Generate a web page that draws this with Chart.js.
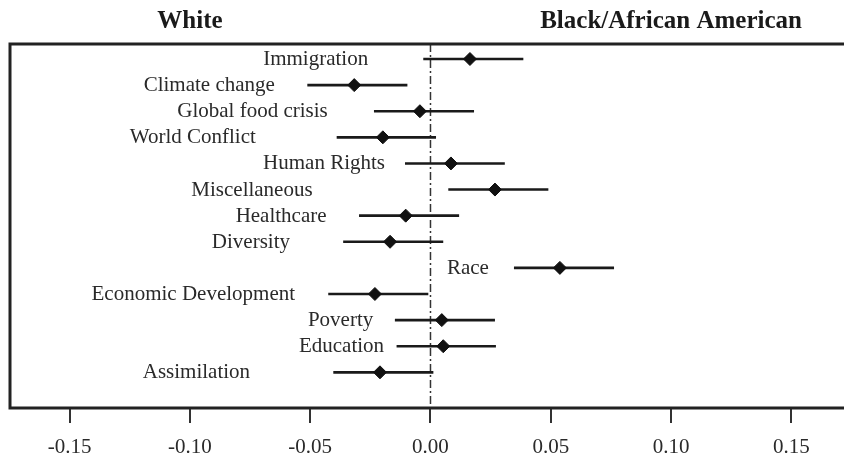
<!DOCTYPE html>
<html>
<head>
<meta charset="utf-8">
<script src="https://cdn.jsdelivr.net/npm/chart.js@4/dist/chart.umd.min.js"></script>
<style>
  html, body { margin: 0; padding: 0; background: #ffffff; }
  #wrap { width: 844px; height: 462px; position: relative; }
</style>
</head>
<body>
<div id="wrap"><canvas id="chart" width="844" height="462"></canvas></div>
<script>
// Topics, top to bottom
const topics = [
  'Immigration', 'Climate change', 'Global food crisis', 'World Conflict',
  'Human Rights', 'Miscellaneous', 'Healthcare', 'Diversity', 'Race',
  'Economic Development', 'Poverty', 'Education', 'Assimilation'
];
// Point estimates (difference, White vs Black/African American)
const estimates = [0.0164, -0.0317, -0.0044, -0.0198, 0.0085, 0.0268, -0.0103, -0.0168, 0.0538, -0.0231, 0.0047, 0.0053, -0.0210];
// Confidence interval bounds
const lower = [-0.0030, -0.0512, -0.0235, -0.0390, -0.0106, 0.0074, -0.0297, -0.0363, 0.0347, -0.0425, -0.0148, -0.0141, -0.0404];
const upper = [0.0386, -0.0096, 0.0181, 0.0023, 0.0309, 0.0490, 0.0119, 0.0053, 0.0763, -0.0009, 0.0268, 0.0272, 0.0012];
// Where each topic label ends, in axis units
const labelEnds = [-0.0259, -0.0647, -0.0427, -0.0726, -0.0189, -0.0490, -0.0432, -0.0584, 0.0243, -0.0563, -0.0238, -0.0193, -0.0750];
// X axis ticks
const tickValues = [-0.15, -0.10, -0.05, 0.00, 0.05, 0.10, 0.15];
const tickLabels = ['-0.15', '-0.10', '-0.05', '0.00', '0.05', '0.10', '0.15'];
// Panel headings and the axis values they sit over
const panelTitles = ['White', 'Black/African American'];
const panelAnchors = [-0.10, 0.10];

const X_MIN = -0.1748, X_MAX = 0.1719;
const Y_MIN = -0.5745, Y_MAX = 13.366;
const SERIF = '"Liberation Serif", "Times New Roman", serif';
const INK = '#1a1a1a';

// interval segments, separated by gaps
const ciData = [];
topics.forEach((t, i) => {
  ciData.push({ x: lower[i], y: i });
  ciData.push({ x: upper[i], y: i });
  ciData.push({ x: upper[i], y: null });
});
const pointData = topics.map((t, i) => ({ x: estimates[i], y: i }));

const decorations = {
  id: 'decorations',
  afterDatasetsDraw(chart) {
    const { ctx, chartArea: a, scales: { x, y } } = chart;
    ctx.save();
    // frame: left, top and bottom rules
    ctx.strokeStyle = '#222';
    ctx.lineWidth = 3;
    ctx.beginPath();
    ctx.moveTo(a.right + 2, a.top);
    ctx.lineTo(a.left, a.top);
    ctx.lineTo(a.left, a.bottom);
    ctx.lineTo(a.right + 2, a.bottom);
    ctx.stroke();
    // topic labels
    ctx.fillStyle = '#2a2a2a';
    ctx.font = '21px ' + SERIF;
    ctx.textAlign = 'right';
    ctx.textBaseline = 'alphabetic';
    topics.forEach((t, i) => {
      ctx.fillText(t, x.getPixelForValue(labelEnds[i]), y.getPixelForValue(i) + 6);
    });
    ctx.restore();
  },
  afterDraw(chart) {
    const { ctx, scales: { x } } = chart;
    ctx.save();
    ctx.fillStyle = '#1a1a1a';
    ctx.font = 'bold 25px ' + SERIF;
    ctx.textAlign = 'center';
    ctx.textBaseline = 'alphabetic';
    panelTitles.forEach((t, i) => {
      ctx.fillText(t, x.getPixelForValue(panelAnchors[i]), 28);
    });
    ctx.restore();
  }
};

new Chart(document.getElementById('chart'), {
  type: 'scatter',
  data: {
    datasets: [
      {
        // reference line at zero
        type: 'line',
        data: [{ x: 0, y: Y_MIN }, { x: 0, y: Y_MAX }],
        borderColor: '#333',
        borderWidth: 1.5,
        borderDash: [8, 3, 2, 3],
        pointRadius: 0,
        order: 3
      },
      {
        type: 'line',
        data: ciData,
        borderColor: INK,
        borderWidth: 2.6,
        pointRadius: 0,
        spanGaps: false,
        order: 2
      },
      {
        data: pointData,
        pointStyle: 'rectRot',
        pointRadius: 6.5,
        backgroundColor: '#111',
        borderColor: '#111',
        borderWidth: 1,
        order: 1
      }
    ]
  },
  options: {
    responsive: false,
    animation: false,
    layout: { autoPadding: false, padding: { top: 44, left: 10, right: 0, bottom: 0 } },
    plugins: { legend: { display: false }, tooltip: { enabled: false }, title: { display: false } },
    scales: {
      x: {
        type: 'linear',
        min: X_MIN,
        max: X_MAX,
        afterBuildTicks(scale) { scale.ticks = tickValues.map(v => ({ value: v })); },
        grid: { drawOnChartArea: false, drawTicks: true, tickLength: 15, color: '#333', lineWidth: 2 },
        border: { display: false },
        ticks: {
          padding: 12,
          color: '#2a2a2a',
          font: { family: SERIF, size: 21 },
          maxRotation: 0,
          autoSkip: false,
          callback: (v, i) => tickLabels[i]
        },
        afterFit(scale) { scale.height = 54; }
      },
      y: {
        type: 'linear',
        reverse: true,
        min: Y_MIN,
        max: Y_MAX,
        display: false
      }
    }
  },
  plugins: [decorations]
});
</script>
</body>
</html>
